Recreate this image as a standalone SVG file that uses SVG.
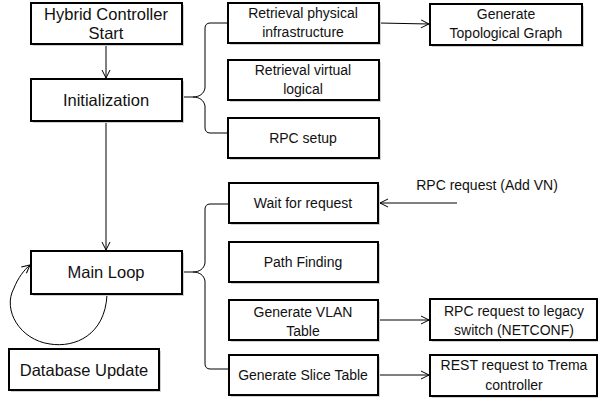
<svg xmlns="http://www.w3.org/2000/svg" width="600" height="399" viewBox="0 0 600 399">
  <style>
    .box { fill: #ffffff; stroke: #000000; stroke-width: 2; }
    .shadow { fill: #d0d0d0; }
    .t { font-family: "Liberation Sans", Arial, sans-serif; fill: #111111; text-anchor: middle; }
    .big { font-size: 16.5px; }
    .sm { font-size: 14px; }
    .wire { fill: none; stroke: #000000; stroke-width: 1; }
  </style>
  <defs>
    <marker id="arrow" viewBox="0 0 10 10" refX="9" refY="5" markerWidth="10" markerHeight="10" markerUnits="userSpaceOnUse" orient="auto">
      <path d="M1,1 L9,5 L1,9" fill="none" stroke="#000" stroke-width="1"/>
    </marker>
  </defs>
  <rect width="600" height="399" fill="#ffffff"/>

  <g id="connectors">
    <line class="wire" x1="106" y1="45" x2="106" y2="78" marker-end="url(#arrow)"/>
    <line class="wire" x1="106" y1="122" x2="106" y2="250" marker-end="url(#arrow)"/>
    <!-- self loop on Main Loop -->
    <path class="wire" d="M107,295 C105,335 75,348 50,344 C20,340 2,310 14,288 C18,278 24,270 30,265" marker-end="url(#arrow)"/>
    <!-- brace from Initialization -->
    <path class="wire" d="M182,97 L193,97 C199,97 204,94 205,88 L205,28 C205,25 207,23 210,23 L228,23"/>
    <path class="wire" d="M193,97 C199,97 204,100 205,106 L205,128 C205,131 207,133 210,133 L228,133"/>
    <!-- brace from Main Loop -->
    <path class="wire" d="M182,272 L193,272 C199,272 204,269 205,263 L205,209 C205,206 207,204 210,204 L229,204"/>
    <path class="wire" d="M193,272 C199,272 204,275 205,281 L205,364 C205,367 207,369 210,369 L229,369"/>
    <line class="wire" x1="379" y1="23" x2="429" y2="24" marker-end="url(#arrow)"/>
    <line class="wire" x1="457" y1="203" x2="380" y2="203" marker-end="url(#arrow)"/>
    <line class="wire" x1="378" y1="320" x2="429" y2="320" marker-end="url(#arrow)"/>
    <line class="wire" x1="378" y1="375" x2="429" y2="375" marker-end="url(#arrow)"/>
  </g>

  <g id="start">
    <rect class="shadow" x="33" y="5" width="151" height="41"/>
    <rect class="box" x="31" y="3" width="151" height="41"/>
    <text class="t big" x="106" y="20">Hybrid Controller</text>
    <text class="t big" x="106" y="39">Start</text>
  </g>
  <g id="initialization">
    <rect class="shadow" x="33" y="81" width="151" height="42"/>
    <rect class="box" x="31" y="79" width="151" height="42"/>
    <text class="t big" x="106" y="106">Initialization</text>
  </g>
  <g id="main-loop">
    <rect class="shadow" x="33" y="253" width="151" height="43"/>
    <rect class="box" x="31" y="251" width="151" height="43"/>
    <text class="t big" x="106" y="278">Main Loop</text>
  </g>
  <g id="database-update">
    <rect class="shadow" x="11" y="351" width="150" height="41"/>
    <rect class="box" x="9" y="349" width="150" height="41"/>
    <text class="t big" x="84" y="376">Database Update</text>
  </g>

  <g id="retrieval-physical">
    <rect class="shadow" x="230" y="5" width="151" height="40"/>
    <rect class="box" x="228" y="3" width="151" height="40"/>
    <text class="t sm" x="303" y="18">Retrieval physical</text>
    <text class="t sm" x="303" y="37">infrastructure</text>
  </g>
  <g id="retrieval-virtual">
    <rect class="shadow" x="230" y="62" width="151" height="40"/>
    <rect class="box" x="228" y="60" width="151" height="40"/>
    <text class="t sm" x="303" y="75">Retrieval virtual</text>
    <text class="t sm" x="303" y="94">logical</text>
  </g>
  <g id="rpc-setup">
    <rect class="shadow" x="230" y="120" width="151" height="40"/>
    <rect class="box" x="228" y="118" width="151" height="40"/>
    <text class="t sm" x="303" y="143">RPC setup</text>
  </g>
  <g id="topological-graph">
    <rect class="shadow" x="432" y="6" width="152" height="41"/>
    <rect class="box" x="430" y="4" width="152" height="41"/>
    <text class="t sm" x="506" y="19">Generate</text>
    <text class="t sm" x="506" y="38">Topological Graph</text>
  </g>

  <g id="wait-for-request">
    <rect class="shadow" x="231" y="185" width="149" height="40"/>
    <rect class="box" x="229" y="183" width="149" height="40"/>
    <text class="t sm" x="303" y="208">Wait for request</text>
  </g>
  <g id="rpc-add-vn">
    <text class="t sm" x="487" y="190">RPC request (Add VN)</text>
  </g>
  <g id="path-finding">
    <rect class="shadow" x="231" y="244" width="149" height="40"/>
    <rect class="box" x="229" y="242" width="149" height="40"/>
    <text class="t sm" x="303" y="267">Path Finding</text>
  </g>
  <g id="vlan-table">
    <rect class="shadow" x="231" y="302" width="149" height="40"/>
    <rect class="box" x="229" y="300" width="149" height="40"/>
    <text class="t sm" x="303" y="317">Generate VLAN</text>
    <text class="t sm" x="303" y="336">Table</text>
  </g>
  <g id="slice-table">
    <rect class="shadow" x="231" y="357" width="149" height="40"/>
    <rect class="box" x="229" y="355" width="149" height="40"/>
    <text class="t sm" x="303" y="380">Generate Slice Table</text>
  </g>
  <g id="netconf-request">
    <rect class="shadow" x="432" y="301" width="166" height="41"/>
    <rect class="box" x="430" y="299" width="167" height="41"/>
    <text class="t sm" x="514" y="316">RPC request to legacy</text>
    <text class="t sm" x="514" y="335">switch (NETCONF)</text>
  </g>
  <g id="trema-request">
    <rect class="shadow" x="432" y="357" width="166" height="41"/>
    <rect class="box" x="430" y="355" width="167" height="41"/>
    <text class="t sm" x="514" y="370">REST request to Trema</text>
    <text class="t sm" x="514" y="390">controller</text>
  </g>
</svg>
